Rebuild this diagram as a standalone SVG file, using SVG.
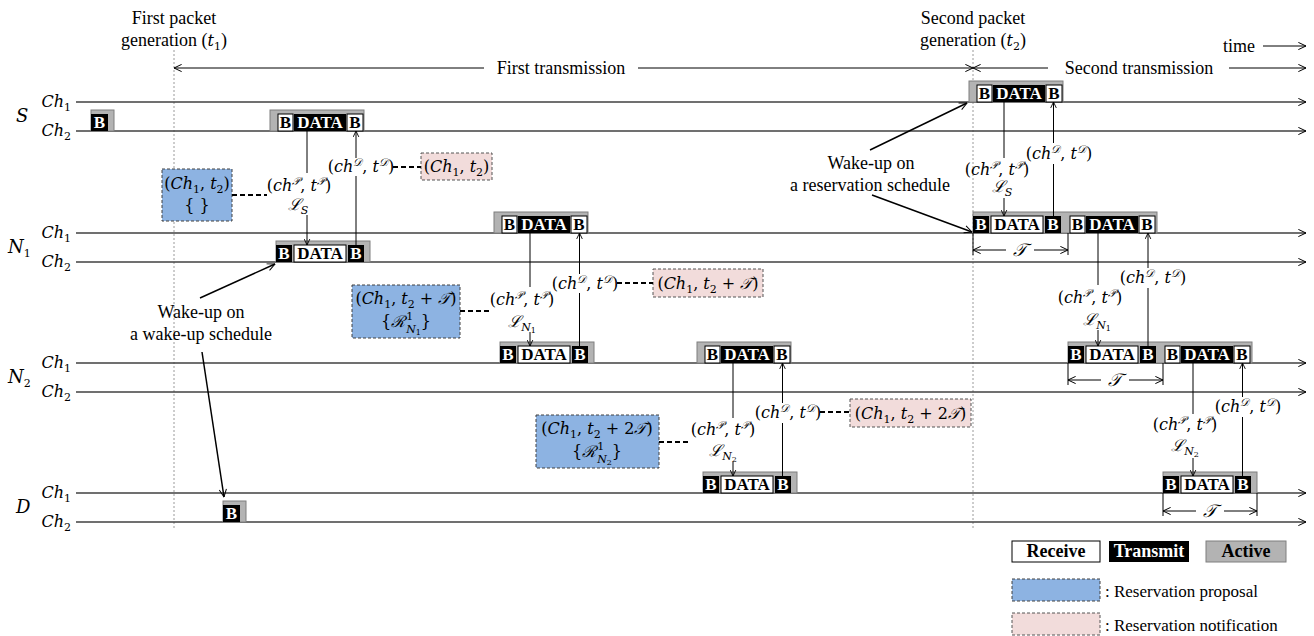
<svg xmlns="http://www.w3.org/2000/svg" width="1314" height="636" viewBox="0 0 1314 636">
<defs>
<marker id="oa" viewBox="0 0 10 10" refX="9.5" refY="5" markerWidth="9" markerHeight="9" markerUnits="userSpaceOnUse" orient="auto-start-reverse"><path d="M1,1 L9.5,5 L1,9" fill="none" stroke="#000" stroke-width="1.1"/></marker>
<marker id="sa" viewBox="0 0 10 10" refX="9.5" refY="5" markerWidth="7" markerHeight="7" markerUnits="userSpaceOnUse" orient="auto-start-reverse"><path d="M1,1 L9.5,5 L1,9" fill="none" stroke="#000" stroke-width="1.3"/></marker>
<style>
.ch{stroke:#404040;stroke-width:1.5;fill:none;marker-end:url(#oa)}
.act{fill:#b3b3b3;stroke:#7f7f7f;stroke-width:1}
.tx{fill:#000}
.rx{fill:#fff;stroke:#000;stroke-width:1}
.bw{font-family:'Liberation Serif','Times New Roman',serif;font-weight:bold;font-size:17px;fill:#fff;text-anchor:middle}
.bb{font-family:'Liberation Serif','Times New Roman',serif;font-weight:bold;font-size:17px;fill:#000;text-anchor:middle}
.m{font-family:'DejaVu Serif',serif;font-style:italic;font-size:16px;fill:#000}
.u{font-style:normal}
.s{font-size:11px}
.ss{font-size:8px}
.t{font-family:'Liberation Serif','Times New Roman',serif;font-size:18px;fill:#000}
.c{text-anchor:middle}
.e{text-anchor:end}
.vl{stroke:#000;stroke-width:1;fill:none}
.va{stroke:#000;stroke-width:1;fill:none;marker-end:url(#sa)}
.wa{stroke:#000;stroke-width:1.5;fill:none;marker-end:url(#oa)}
.dl{stroke:#000;stroke-width:2.2;stroke-dasharray:5,3;fill:none}
.prop{fill:#8db3e2;stroke:#404040;stroke-width:1;stroke-dasharray:3,2}
.noti{fill:#f2dcdb;stroke:#555;stroke-width:1;stroke-dasharray:3,2}
.dot{stroke:#9a9a9a;stroke-width:1;stroke-dasharray:2,2;fill:none}
.lb{font-family:'Liberation Serif','Times New Roman',serif;font-weight:bold;font-size:18px;text-anchor:middle}
</style>
</defs>
<rect width="1314" height="636" fill="#fff"/>

<g id="header">
<text class="t c" x="174" y="24">First packet</text>
<text class="t c" x="174" y="46">generation (<tspan class="m">t<tspan class="s u" dy="4">1</tspan></tspan><tspan dy="-4">)</tspan></text>
<text class="t c" x="973" y="24">Second packet</text>
<text class="t c" x="973" y="46">generation (<tspan class="m">t<tspan class="s u" dy="4">2</tspan></tspan><tspan dy="-4">)</tspan></text>
<text class="t" x="1223" y="52">time</text>
<line class="vl" x1="1263" y1="46" x2="1306" y2="46" style="marker-end:url(#oa)"/>
<line class="dot" x1="174" y1="50" x2="174" y2="530"/>
<line class="dot" x1="973" y1="50" x2="973" y2="530"/>
<line class="vl" x1="174" y1="68" x2="484" y2="68" style="marker-start:url(#oa)"/>
<text class="t c" x="561" y="74">First transmission</text>
<line class="vl" x1="638" y1="68" x2="973" y2="68" style="marker-end:url(#oa)"/>
<line class="vl" x1="973" y1="68" x2="1048" y2="68" style="marker-start:url(#oa)"/>
<text class="t c" x="1139" y="74">Second transmission</text>
<line class="vl" x1="1229" y1="68" x2="1306" y2="68" style="marker-end:url(#oa)"/>
</g>

<g id="node-S">
<text class="m" x="16" y="122" style="font-size:18px">S</text>
<text class="m e" x="71" y="107">Ch<tspan class="s u" dy="4">1</tspan></text>
<text class="m e" x="71" y="136">Ch<tspan class="s u" dy="4">2</tspan></text>
<line class="ch" x1="76" y1="102" x2="1306" y2="102"/>
<line class="ch" x1="76" y1="131" x2="1306" y2="131"/>
<rect class="act" x="91" y="110" width="23" height="21"/>
<rect class="tx" x="91" y="114" width="17" height="17"/>
<text class="bw" x="99.5" y="128">B</text>
<rect class="act" x="270" y="110" width="94" height="21"/>
<rect class="rx" x="278" y="114" width="15" height="17"/><text class="bb" x="285.5" y="128">B</text>
<rect class="tx" x="294" y="114" width="52" height="17"/><text class="bw" x="320" y="128">DATA</text>
<rect class="rx" x="347" y="114" width="16" height="17"/><text class="bb" x="355" y="128">B</text>
<rect class="act" x="969" y="81" width="94" height="21"/>
<rect class="rx" x="977" y="85" width="15" height="17"/><text class="bb" x="984.5" y="99">B</text>
<rect class="tx" x="993" y="85" width="52" height="17"/><text class="bw" x="1019" y="99">DATA</text>
<rect class="rx" x="1046" y="85" width="16" height="17"/><text class="bb" x="1054" y="99">B</text>
</g>

<g id="node-N1">
<text class="m" x="8" y="253" style="font-size:18px">N<tspan class="s u" dy="4">1</tspan></text>
<text class="m e" x="71" y="238">Ch<tspan class="s u" dy="4">1</tspan></text>
<text class="m e" x="71" y="267">Ch<tspan class="s u" dy="4">2</tspan></text>
<line class="ch" x1="76" y1="233" x2="1306" y2="233"/>
<line class="ch" x1="76" y1="262" x2="1306" y2="262"/>
<rect class="act" x="276" y="241" width="94" height="21"/>
<rect class="tx" x="276" y="245" width="16" height="17"/><text class="bw" x="284" y="259">B</text>
<rect class="rx" x="294" y="245" width="52" height="17"/><text class="bb" x="320" y="259">DATA</text>
<rect class="tx" x="348" y="245" width="16" height="17"/><text class="bw" x="356" y="259">B</text>
<rect class="act" x="494" y="212" width="94" height="21"/>
<rect class="rx" x="502" y="216" width="15" height="17"/><text class="bb" x="509.5" y="230">B</text>
<rect class="tx" x="518" y="216" width="52" height="17"/><text class="bw" x="544" y="230">DATA</text>
<rect class="rx" x="571" y="216" width="16" height="17"/><text class="bb" x="579" y="230">B</text>
<rect class="act" x="973" y="212" width="184" height="21"/>
<rect class="tx" x="973" y="216" width="16" height="17"/><text class="bw" x="981" y="230">B</text>
<rect class="rx" x="991" y="216" width="52" height="17"/><text class="bb" x="1017" y="230">DATA</text>
<rect class="tx" x="1045" y="216" width="16" height="17"/><text class="bw" x="1053" y="230">B</text>
<rect class="rx" x="1070" y="216" width="15" height="17"/><text class="bb" x="1077.5" y="230">B</text>
<rect class="tx" x="1086" y="216" width="52" height="17"/><text class="bw" x="1112" y="230">DATA</text>
<rect class="rx" x="1139" y="216" width="16" height="17"/><text class="bb" x="1147" y="230">B</text>
</g>

<g id="node-N2">
<text class="m" x="8" y="383" style="font-size:18px">N<tspan class="s u" dy="4">2</tspan></text>
<text class="m e" x="71" y="368">Ch<tspan class="s u" dy="4">1</tspan></text>
<text class="m e" x="71" y="397">Ch<tspan class="s u" dy="4">2</tspan></text>
<line class="ch" x1="76" y1="363" x2="1306" y2="363"/>
<line class="ch" x1="76" y1="392" x2="1306" y2="392"/>
<rect class="act" x="500" y="342" width="94" height="21"/>
<rect class="tx" x="500" y="346" width="16" height="17"/><text class="bw" x="508" y="360">B</text>
<rect class="rx" x="518" y="346" width="52" height="17"/><text class="bb" x="544" y="360">DATA</text>
<rect class="tx" x="572" y="346" width="16" height="17"/><text class="bw" x="580" y="360">B</text>
<rect class="act" x="697" y="342" width="94" height="21"/>
<rect class="rx" x="705" y="346" width="15" height="17"/><text class="bb" x="712.5" y="360">B</text>
<rect class="tx" x="721" y="346" width="52" height="17"/><text class="bw" x="747" y="360">DATA</text>
<rect class="rx" x="774" y="346" width="16" height="17"/><text class="bb" x="782" y="360">B</text>
<rect class="act" x="1068" y="342" width="184" height="21"/>
<rect class="tx" x="1068" y="346" width="16" height="17"/><text class="bw" x="1076" y="360">B</text>
<rect class="rx" x="1086" y="346" width="52" height="17"/><text class="bb" x="1112" y="360">DATA</text>
<rect class="tx" x="1140" y="346" width="16" height="17"/><text class="bw" x="1148" y="360">B</text>
<rect class="rx" x="1165" y="346" width="15" height="17"/><text class="bb" x="1172.5" y="360">B</text>
<rect class="tx" x="1181" y="346" width="52" height="17"/><text class="bw" x="1207" y="360">DATA</text>
<rect class="rx" x="1234" y="346" width="16" height="17"/><text class="bb" x="1242" y="360">B</text>
</g>

<g id="node-D">
<text class="m" x="16" y="513" style="font-size:18px">D</text>
<text class="m e" x="71" y="498">Ch<tspan class="s u" dy="4">1</tspan></text>
<text class="m e" x="71" y="527">Ch<tspan class="s u" dy="4">2</tspan></text>
<line class="ch" x1="76" y1="493" x2="1306" y2="493"/>
<line class="ch" x1="76" y1="522" x2="1306" y2="522"/>
<rect class="act" x="223" y="501" width="23" height="21"/>
<rect class="tx" x="223" y="505" width="17" height="17"/><text class="bw" x="231.5" y="519">B</text>
<rect class="act" x="703" y="472" width="94" height="21"/>
<rect class="tx" x="703" y="476" width="16" height="17"/><text class="bw" x="711" y="490">B</text>
<rect class="rx" x="721" y="476" width="52" height="17"/><text class="bb" x="747" y="490">DATA</text>
<rect class="tx" x="775" y="476" width="16" height="17"/><text class="bw" x="783" y="490">B</text>
<rect class="act" x="1163" y="472" width="94" height="21"/>
<rect class="tx" x="1163" y="476" width="16" height="17"/><text class="bw" x="1171" y="490">B</text>
<rect class="rx" x="1181" y="476" width="52" height="17"/><text class="bb" x="1207" y="490">DATA</text>
<rect class="tx" x="1235" y="476" width="16" height="17"/><text class="bw" x="1243" y="490">B</text>
</g>

<g id="proposal-S">
<rect class="prop" x="162" y="169" width="70" height="52"/>
<text class="m c" x="197" y="189"><tspan class="u">(</tspan>Ch<tspan class="s u" dy="4">1</tspan><tspan class="u" dy="-4">, </tspan>t<tspan class="s u" dy="4">2</tspan><tspan class="u" dy="-4">)</tspan></text>
<text class="m c u" x="197" y="211">{ }</text>
</g>
<g id="notify-S">
<rect class="noti" x="421" y="153" width="71" height="27"/>
<text class="m c" x="456.5" y="172"><tspan class="u">(</tspan>Ch<tspan class="s u" dy="4">1</tspan><tspan class="u" dy="-4">, </tspan>t<tspan class="s u" dy="4">2</tspan><tspan class="u" dy="-4">)</tspan></text>
</g>
<g id="proposal-N1">
<rect class="prop" x="352" y="285" width="108" height="53"/>
<text class="m c" x="406" y="304"><tspan class="u">(</tspan>Ch<tspan class="s u" dy="4">1</tspan><tspan class="u" dy="-4">, </tspan>t<tspan class="s u" dy="4">2</tspan><tspan class="u" dy="-4"> + </tspan>𝒯<tspan class="u">)</tspan></text>
<text class="m c" x="406" y="327"><tspan class="u">{</tspan>ℛ<tspan class="s u" dx="1" dy="-7">1</tspan><tspan class="s" dx="-7" dy="13">N</tspan><tspan class="ss u" dy="2">1</tspan><tspan class="u" dy="-8">}</tspan></text>
</g>
<g id="notify-N1">
<rect class="noti" x="653" y="269" width="110" height="28"/>
<text class="m c" x="708" y="289"><tspan class="u">(</tspan>Ch<tspan class="s u" dy="4">1</tspan><tspan class="u" dy="-4">, </tspan>t<tspan class="s u" dy="4">2</tspan><tspan class="u" dy="-4"> + </tspan>𝒯<tspan class="u">)</tspan></text>
</g>
<g id="proposal-N2">
<rect class="prop" x="536" y="415" width="123" height="53"/>
<text class="m c" x="597" y="434"><tspan class="u">(</tspan>Ch<tspan class="s u" dy="4">1</tspan><tspan class="u" dy="-4">, </tspan>t<tspan class="s u" dy="4">2</tspan><tspan class="u" dy="-4"> + 2</tspan>𝒯<tspan class="u">)</tspan></text>
<text class="m c" x="597" y="457"><tspan class="u">{</tspan>ℛ<tspan class="s u" dx="1" dy="-7">1</tspan><tspan class="s" dx="-7" dy="13">N</tspan><tspan class="ss u" dy="2">2</tspan><tspan class="u" dy="-8">}</tspan></text>
</g>
<g id="notify-N2">
<rect class="noti" x="850" y="399" width="121" height="28"/>
<text class="m c" x="910.5" y="419"><tspan class="u">(</tspan>Ch<tspan class="s u" dy="4">1</tspan><tspan class="u" dy="-4">, </tspan>t<tspan class="s u" dy="4">2</tspan><tspan class="u" dy="-4"> + 2</tspan>𝒯<tspan class="u">)</tspan></text>
</g>

<g id="labels">
<text class="m c" x="299" y="191"><tspan class="u">(</tspan>ch<tspan class="s" dy="-6">𝒫</tspan><tspan class="u" dy="6">, </tspan>t<tspan class="s" dy="-6">𝒫</tspan><tspan class="u" dy="6">)</tspan></text>
<text class="m c" x="298" y="210">ℒ<tspan class="s" dy="4">S</tspan></text>
<text class="m c" x="361" y="172"><tspan class="u">(</tspan>ch<tspan class="s" dy="-6">𝒟</tspan><tspan class="u" dy="6">, </tspan>t<tspan class="s" dy="-6">𝒟</tspan><tspan class="u" dy="6">)</tspan></text>
<text class="m c" x="522" y="305"><tspan class="u">(</tspan>ch<tspan class="s" dy="-6">𝒫</tspan><tspan class="u" dy="6">, </tspan>t<tspan class="s" dy="-6">𝒫</tspan><tspan class="u" dy="6">)</tspan></text>
<text class="m c" x="522" y="327">ℒ<tspan class="s" dy="4">N</tspan><tspan class="ss u" dy="2">1</tspan></text>
<text class="m c" x="585" y="289"><tspan class="u">(</tspan>ch<tspan class="s" dy="-6">𝒟</tspan><tspan class="u" dy="6">, </tspan>t<tspan class="s" dy="-6">𝒟</tspan><tspan class="u" dy="6">)</tspan></text>
<text class="m c" x="723" y="435"><tspan class="u">(</tspan>ch<tspan class="s" dy="-6">𝒫</tspan><tspan class="u" dy="6">, </tspan>t<tspan class="s" dy="-6">𝒫</tspan><tspan class="u" dy="6">)</tspan></text>
<text class="m c" x="723" y="456">ℒ<tspan class="s" dy="4">N</tspan><tspan class="ss u" dy="2">2</tspan></text>
<text class="m c" x="788" y="418"><tspan class="u">(</tspan>ch<tspan class="s" dy="-6">𝒟</tspan><tspan class="u" dy="6">, </tspan>t<tspan class="s" dy="-6">𝒟</tspan><tspan class="u" dy="6">)</tspan></text>
<text class="m c" x="997" y="175"><tspan class="u">(</tspan>ch<tspan class="s" dy="-6">𝒫</tspan><tspan class="u" dy="6">, </tspan>t<tspan class="s" dy="-6">𝒫</tspan><tspan class="u" dy="6">)</tspan></text>
<text class="m c" x="1002" y="192">ℒ<tspan class="s" dy="4">S</tspan></text>
<text class="m c" x="1059" y="159"><tspan class="u">(</tspan>ch<tspan class="s" dy="-6">𝒟</tspan><tspan class="u" dy="6">, </tspan>t<tspan class="s" dy="-6">𝒟</tspan><tspan class="u" dy="6">)</tspan></text>
<text class="m c" x="1090" y="303"><tspan class="u">(</tspan>ch<tspan class="s" dy="-6">𝒫</tspan><tspan class="u" dy="6">, </tspan>t<tspan class="s" dy="-6">𝒫</tspan><tspan class="u" dy="6">)</tspan></text>
<text class="m c" x="1097" y="325">ℒ<tspan class="s" dy="4">N</tspan><tspan class="ss u" dy="2">1</tspan></text>
<text class="m c" x="1153" y="283"><tspan class="u">(</tspan>ch<tspan class="s" dy="-6">𝒟</tspan><tspan class="u" dy="6">, </tspan>t<tspan class="s" dy="-6">𝒟</tspan><tspan class="u" dy="6">)</tspan></text>
<text class="m c" x="1185" y="430"><tspan class="u">(</tspan>ch<tspan class="s" dy="-6">𝒫</tspan><tspan class="u" dy="6">, </tspan>t<tspan class="s" dy="-6">𝒫</tspan><tspan class="u" dy="6">)</tspan></text>
<text class="m c" x="1185" y="451">ℒ<tspan class="s" dy="4">N</tspan><tspan class="ss u" dy="2">2</tspan></text>
<text class="m c" x="1248" y="412"><tspan class="u">(</tspan>ch<tspan class="s" dy="-6">𝒟</tspan><tspan class="u" dy="6">, </tspan>t<tspan class="s" dy="-6">𝒟</tspan><tspan class="u" dy="6">)</tspan></text>
<text class="t c" x="201" y="318">Wake-up on</text>
<text class="t c" x="201" y="340">a wake-up schedule</text>
<text class="t c" x="871" y="169">Wake-up on</text>
<text class="t c" x="870" y="191">a reservation schedule</text>
<text class="m c" x="1020" y="256" style="font-size:18px">𝒯</text>
<text class="m c" x="1115" y="386" style="font-size:18px">𝒯</text>
<text class="m c" x="1210" y="517" style="font-size:18px">𝒯</text>
</g>

<g id="connectors">
<line class="vl" x1="307" y1="131" x2="307" y2="173"/>
<line class="va" x1="307" y1="215" x2="307" y2="245"/>
<line class="vl" x1="356" y1="245" x2="356" y2="176"/>
<line class="va" x1="356" y1="158" x2="356" y2="131"/>
<line class="vl" x1="530" y1="233" x2="530" y2="287"/>
<line class="va" x1="530" y1="332" x2="530" y2="346"/>
<line class="vl" x1="579.5" y1="346" x2="579.5" y2="293"/>
<line class="va" x1="579.5" y1="274" x2="579.5" y2="233"/>
<line class="vl" x1="733" y1="363" x2="733" y2="418"/>
<line class="va" x1="733" y1="462" x2="733" y2="476"/>
<line class="vl" x1="782.5" y1="476" x2="782.5" y2="423"/>
<line class="va" x1="782.5" y1="403" x2="782.5" y2="363"/>
<line class="vl" x1="1004" y1="102" x2="1004" y2="158"/>
<line class="va" x1="1004" y1="198" x2="1004" y2="216"/>
<line class="vl" x1="1053.5" y1="216" x2="1053.5" y2="164"/>
<line class="va" x1="1053.5" y1="143" x2="1053.5" y2="102"/>
<line class="vl" x1="1098" y1="233" x2="1098" y2="285"/>
<line class="va" x1="1098" y1="330" x2="1098" y2="346"/>
<line class="vl" x1="1148" y1="346" x2="1148" y2="288"/>
<line class="va" x1="1148" y1="268" x2="1148" y2="233"/>
<line class="vl" x1="1193" y1="363" x2="1193" y2="414"/>
<line class="va" x1="1193" y1="458" x2="1193" y2="476"/>
<line class="vl" x1="1242.5" y1="476" x2="1242.5" y2="417"/>
<line class="va" x1="1242.5" y1="397" x2="1242.5" y2="363"/>
<line class="dl" x1="232" y1="195" x2="267" y2="195"/>
<line class="dl" x1="393" y1="167" x2="421" y2="167"/>
<line class="dl" x1="460" y1="311" x2="490" y2="311"/>
<line class="dl" x1="617" y1="283" x2="653" y2="283"/>
<line class="dl" x1="659" y1="442" x2="690" y2="442"/>
<line class="dl" x1="820" y1="412" x2="850" y2="412"/>
<line class="wa" x1="200" y1="298" x2="275" y2="264"/>
<line class="wa" x1="202" y1="352" x2="224" y2="497"/>
<line class="wa" x1="870" y1="150" x2="967" y2="103"/>
<line class="wa" x1="872" y1="195" x2="972" y2="232"/>
<line class="vl" x1="973" y1="233" x2="973" y2="255"/>
<line class="vl" x1="1068" y1="233" x2="1068" y2="255"/>
<line class="vl" x1="973" y1="250" x2="1006" y2="250" style="marker-start:url(#oa)"/>
<line class="vl" x1="1034" y1="250" x2="1068" y2="250" style="marker-end:url(#oa)"/>
<line class="vl" x1="1068" y1="363" x2="1068" y2="385"/>
<line class="vl" x1="1163" y1="363" x2="1163" y2="385"/>
<line class="vl" x1="1068" y1="380" x2="1101" y2="380" style="marker-start:url(#oa)"/>
<line class="vl" x1="1129" y1="380" x2="1163" y2="380" style="marker-end:url(#oa)"/>
<line class="vl" x1="1163" y1="493" x2="1163" y2="516"/>
<line class="vl" x1="1257" y1="493" x2="1257" y2="516"/>
<line class="vl" x1="1163" y1="511" x2="1196" y2="511" style="marker-start:url(#oa)"/>
<line class="vl" x1="1224" y1="511" x2="1257" y2="511" style="marker-end:url(#oa)"/>
</g>

<g id="legend">
<rect x="1012" y="541" width="88" height="21" fill="#fff" stroke="#000" stroke-width="1"/>
<text class="lb" x="1056" y="557" fill="#000">Receive</text>
<rect x="1109" y="541" width="80" height="21" fill="#000"/>
<text class="lb" x="1149" y="557" fill="#fff">Transmit</text>
<rect x="1206" y="541" width="80" height="21" fill="#b3b3b3" stroke="#7f7f7f" stroke-width="1"/>
<text class="lb" x="1246" y="557" fill="#000">Active</text>
<rect class="prop" x="1012" y="579" width="88" height="22"/>
<text class="t" x="1105" y="597" style="font-size:17px">: Reservation proposal</text>
<rect class="noti" x="1012" y="613" width="88" height="22"/>
<text class="t" x="1105" y="631" style="font-size:17px">: Reservation notification</text>
</g>
</svg>
